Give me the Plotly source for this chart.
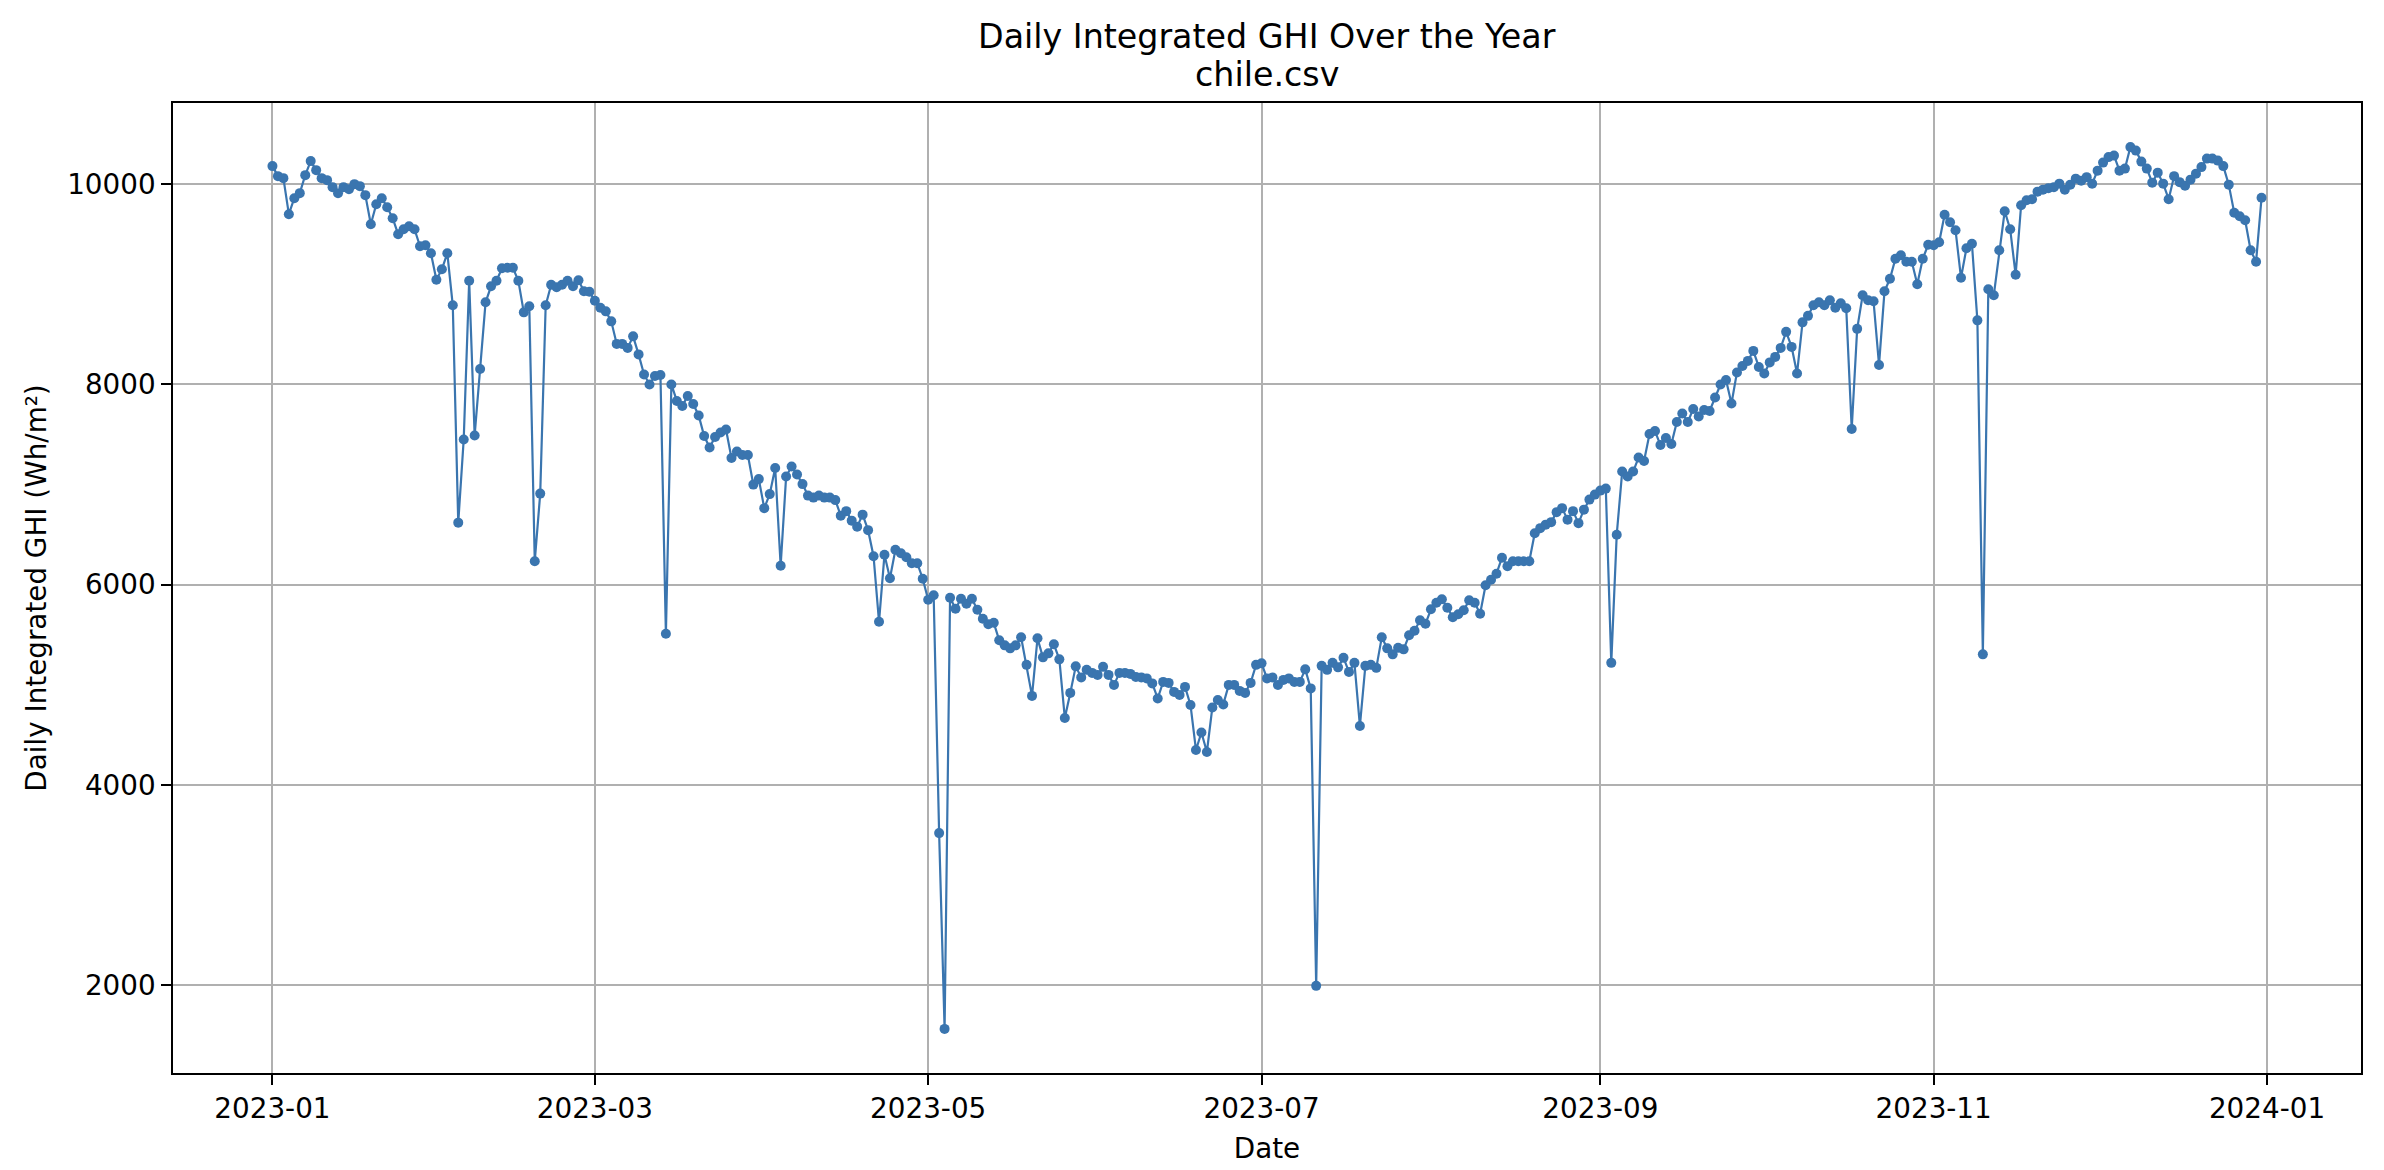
import pandas as pd
import plotly.graph_objects as go

# Daily integrated GHI (Wh/m²)
jan = [10180, 10080, 10060, 9700, 9860, 9910, 10090, 10230, 10140, 10060,
       10040, 9970, 9910, 9970, 9950, 10000, 9980, 9890, 9600, 9800,
       9860, 9770, 9660, 9500, 9550, 9580, 9550, 9380, 9390, 9310, 9045]
feb = [9150, 9310, 8790, 6620, 7450, 9035, 7490, 8155, 8820, 8980,
       9035, 9160, 9165, 9165, 9035, 8720, 8780, 6235, 6910, 8790,
       8995, 8970, 8995, 9035, 8980, 9040, 8930, 8925]
mar = [8835, 8765, 8730, 8630, 8405, 8405, 8365, 8480, 8300, 8100,
       8000, 8085, 8095, 5510, 8000, 7835, 7785, 7885, 7805, 7690,
       7485, 7370, 7475, 7520, 7550, 7265, 7330, 7295, 7295, 7000, 7055]
apr = [6765, 6905, 7165, 6190, 7080, 7180, 7100, 7005, 6890, 6870,
       6890, 6870, 6870, 6845, 6690, 6735, 6640, 6580, 6700, 6545,
       6285, 5630, 6300, 6065, 6350, 6315, 6275, 6215, 6215, 6060]
may = [5850, 5895, 3520, 1565, 5870, 5760, 5860, 5810, 5860, 5750,
       5660, 5605, 5620, 5445, 5395, 5365, 5395, 5475, 5200, 4890,
       5465, 5275, 5315, 5405, 5255, 4670, 4920, 5185, 5075, 5150, 5120]
jun = [5100, 5180, 5100, 5000, 5120, 5120, 5110, 5080, 5075, 5065,
       5015, 4865, 5030, 5020, 4930, 4900, 4980, 4800, 4350, 4525,
       4330, 4775, 4850, 4805, 5000, 5000, 4940, 4920, 5020, 5200]
jul = [5215, 5065, 5075, 5000, 5050, 5065, 5030, 5030, 5155, 4965,
       1995, 5190, 5150, 5220, 5175, 5270, 5130, 5220, 4590, 5190,
       5200, 5170, 5475, 5365, 5305, 5370, 5355, 5495, 5540, 5645, 5610]
aug = [5755, 5820, 5855, 5770, 5675, 5705, 5745, 5845, 5820, 5710,
       5995, 6050, 6110, 6270, 6185, 6235, 6235, 6235, 6235, 6515,
       6565, 6600, 6625, 6725, 6765, 6650, 6735, 6615, 6750, 6850, 6900]
sep = [6940, 6960, 5220, 6500, 7130, 7080, 7130, 7270, 7235, 7505,
       7535, 7395, 7465, 7405, 7625, 7710, 7625, 7755, 7680, 7745,
       7735, 7870, 8000, 8045, 7810, 8120, 8185, 8235, 8335, 8175]
oct_ = [8110, 8220, 8275, 8365, 8525, 8375, 8110, 8620, 8685, 8790,
        8820, 8790, 8840, 8765, 8810, 8760, 7555, 8555, 8890, 8840,
        8830, 8195, 8930, 9055, 9255, 9290, 9225, 9225, 9000, 9255, 9395]
nov = [9390, 9420, 9695, 9620, 9540, 9065, 9360, 9405, 8640, 5305,
       8950, 8890, 9340, 9730, 9550, 9095, 9790, 9840, 9850, 9925,
       9945, 9960, 9970, 10005, 9945, 9995, 10055, 10035, 10070, 10005]
dec = [10135, 10215, 10270, 10285, 10135, 10155, 10370, 10335, 10225, 10155,
       10015, 10115, 10005, 9850, 10080, 10020, 9985, 10045, 10105, 10170,
       10255, 10255, 10235, 10180, 9995, 9715, 9680, 9640, 9340, 9225, 9865]

start_date = "2023-01-01"

x_tick_vals = ["2023-01-01", "2023-03-01", "2023-05-01", "2023-07-01",
               "2023-09-01", "2023-11-01", "2024-01-01"]
x_tick_text = ["2023-01", "2023-03", "2023-05", "2023-07",
               "2023-09", "2023-11", "2024-01"]
y_tick_vals = [2000, 4000, 6000, 8000, 10000]

title_line1 = "Daily Integrated GHI Over the Year"
title_line2 = "chile.csv"
x_label = "Date"
y_label = "Daily Integrated GHI (Wh/m²)"

ghi = jan + feb + mar + apr + may + jun + jul + aug + sep + oct_ + nov + dec
dates = pd.date_range(start_date, periods=len(ghi), freq="D")

# matplotlib-like 5% auto margins
span = dates[-1] - dates[0]
x_range = [dates[0] - 0.05 * span, dates[-1] + 0.05 * span]
ymin, ymax = min(ghi), max(ghi)
ypad = 0.05 * (ymax - ymin)
y_range = [ymin - ypad, ymax + ypad]

BLUE = "#3a75af"
FONT = "DejaVu Sans"
W, H = 2384, 1170
ML, MR, MT, MB = 173, 23, 103, 97
PH = H - MT - MB

fig = go.Figure(
    go.Scatter(
        x=dates, y=ghi, mode="lines+markers",
        line=dict(color=BLUE, width=2.2),
        marker=dict(size=10, color=BLUE),
        showlegend=False,
    )
)

axis_common = dict(
    showgrid=True, gridcolor="#b0b0b0", gridwidth=1.6,
    showline=True, linecolor="black", linewidth=1.6, mirror=True,
    ticks="outside", ticklen=10, tickwidth=1.6, tickcolor="black",
    tickfont=dict(family=FONT, size=27.8, color="black"),
    zeroline=False, automargin=False,
)

fig.update_layout(
    width=W, height=H,
    margin=dict(l=ML, r=MR, t=MT, b=MB),
    paper_bgcolor="white", plot_bgcolor="white",
    font=dict(family=FONT, color="black"),
    xaxis=dict(
        type="date", range=x_range,
        tickmode="array", tickvals=x_tick_vals, ticktext=x_tick_text,
        title=dict(text=x_label, font=dict(family=FONT, size=27.8, color="black"), standoff=14),
        **axis_common,
    ),
    yaxis=dict(
        range=y_range,
        tickmode="array", tickvals=y_tick_vals, ticktext=[str(v) for v in y_tick_vals],
        title=dict(text=y_label, font=dict(family=FONT, size=27.8, color="black"), standoff=12),
        **axis_common,
    ),
    annotations=[
        dict(text=title_line1, xref="paper", yref="paper", x=0.5, y=1 + 66.5 / PH,
             xanchor="center", yanchor="middle", showarrow=False,
             font=dict(family=FONT, size=33.3, color="black")),
        dict(text=title_line2, xref="paper", yref="paper", x=0.5, y=1 + 28.5 / PH,
             xanchor="center", yanchor="middle", showarrow=False,
             font=dict(family=FONT, size=33.3, color="black")),
    ],
)

fig.write_html("out.html", config={"displayModeBar": False},
               post_script="document.body.style.margin='0';")
